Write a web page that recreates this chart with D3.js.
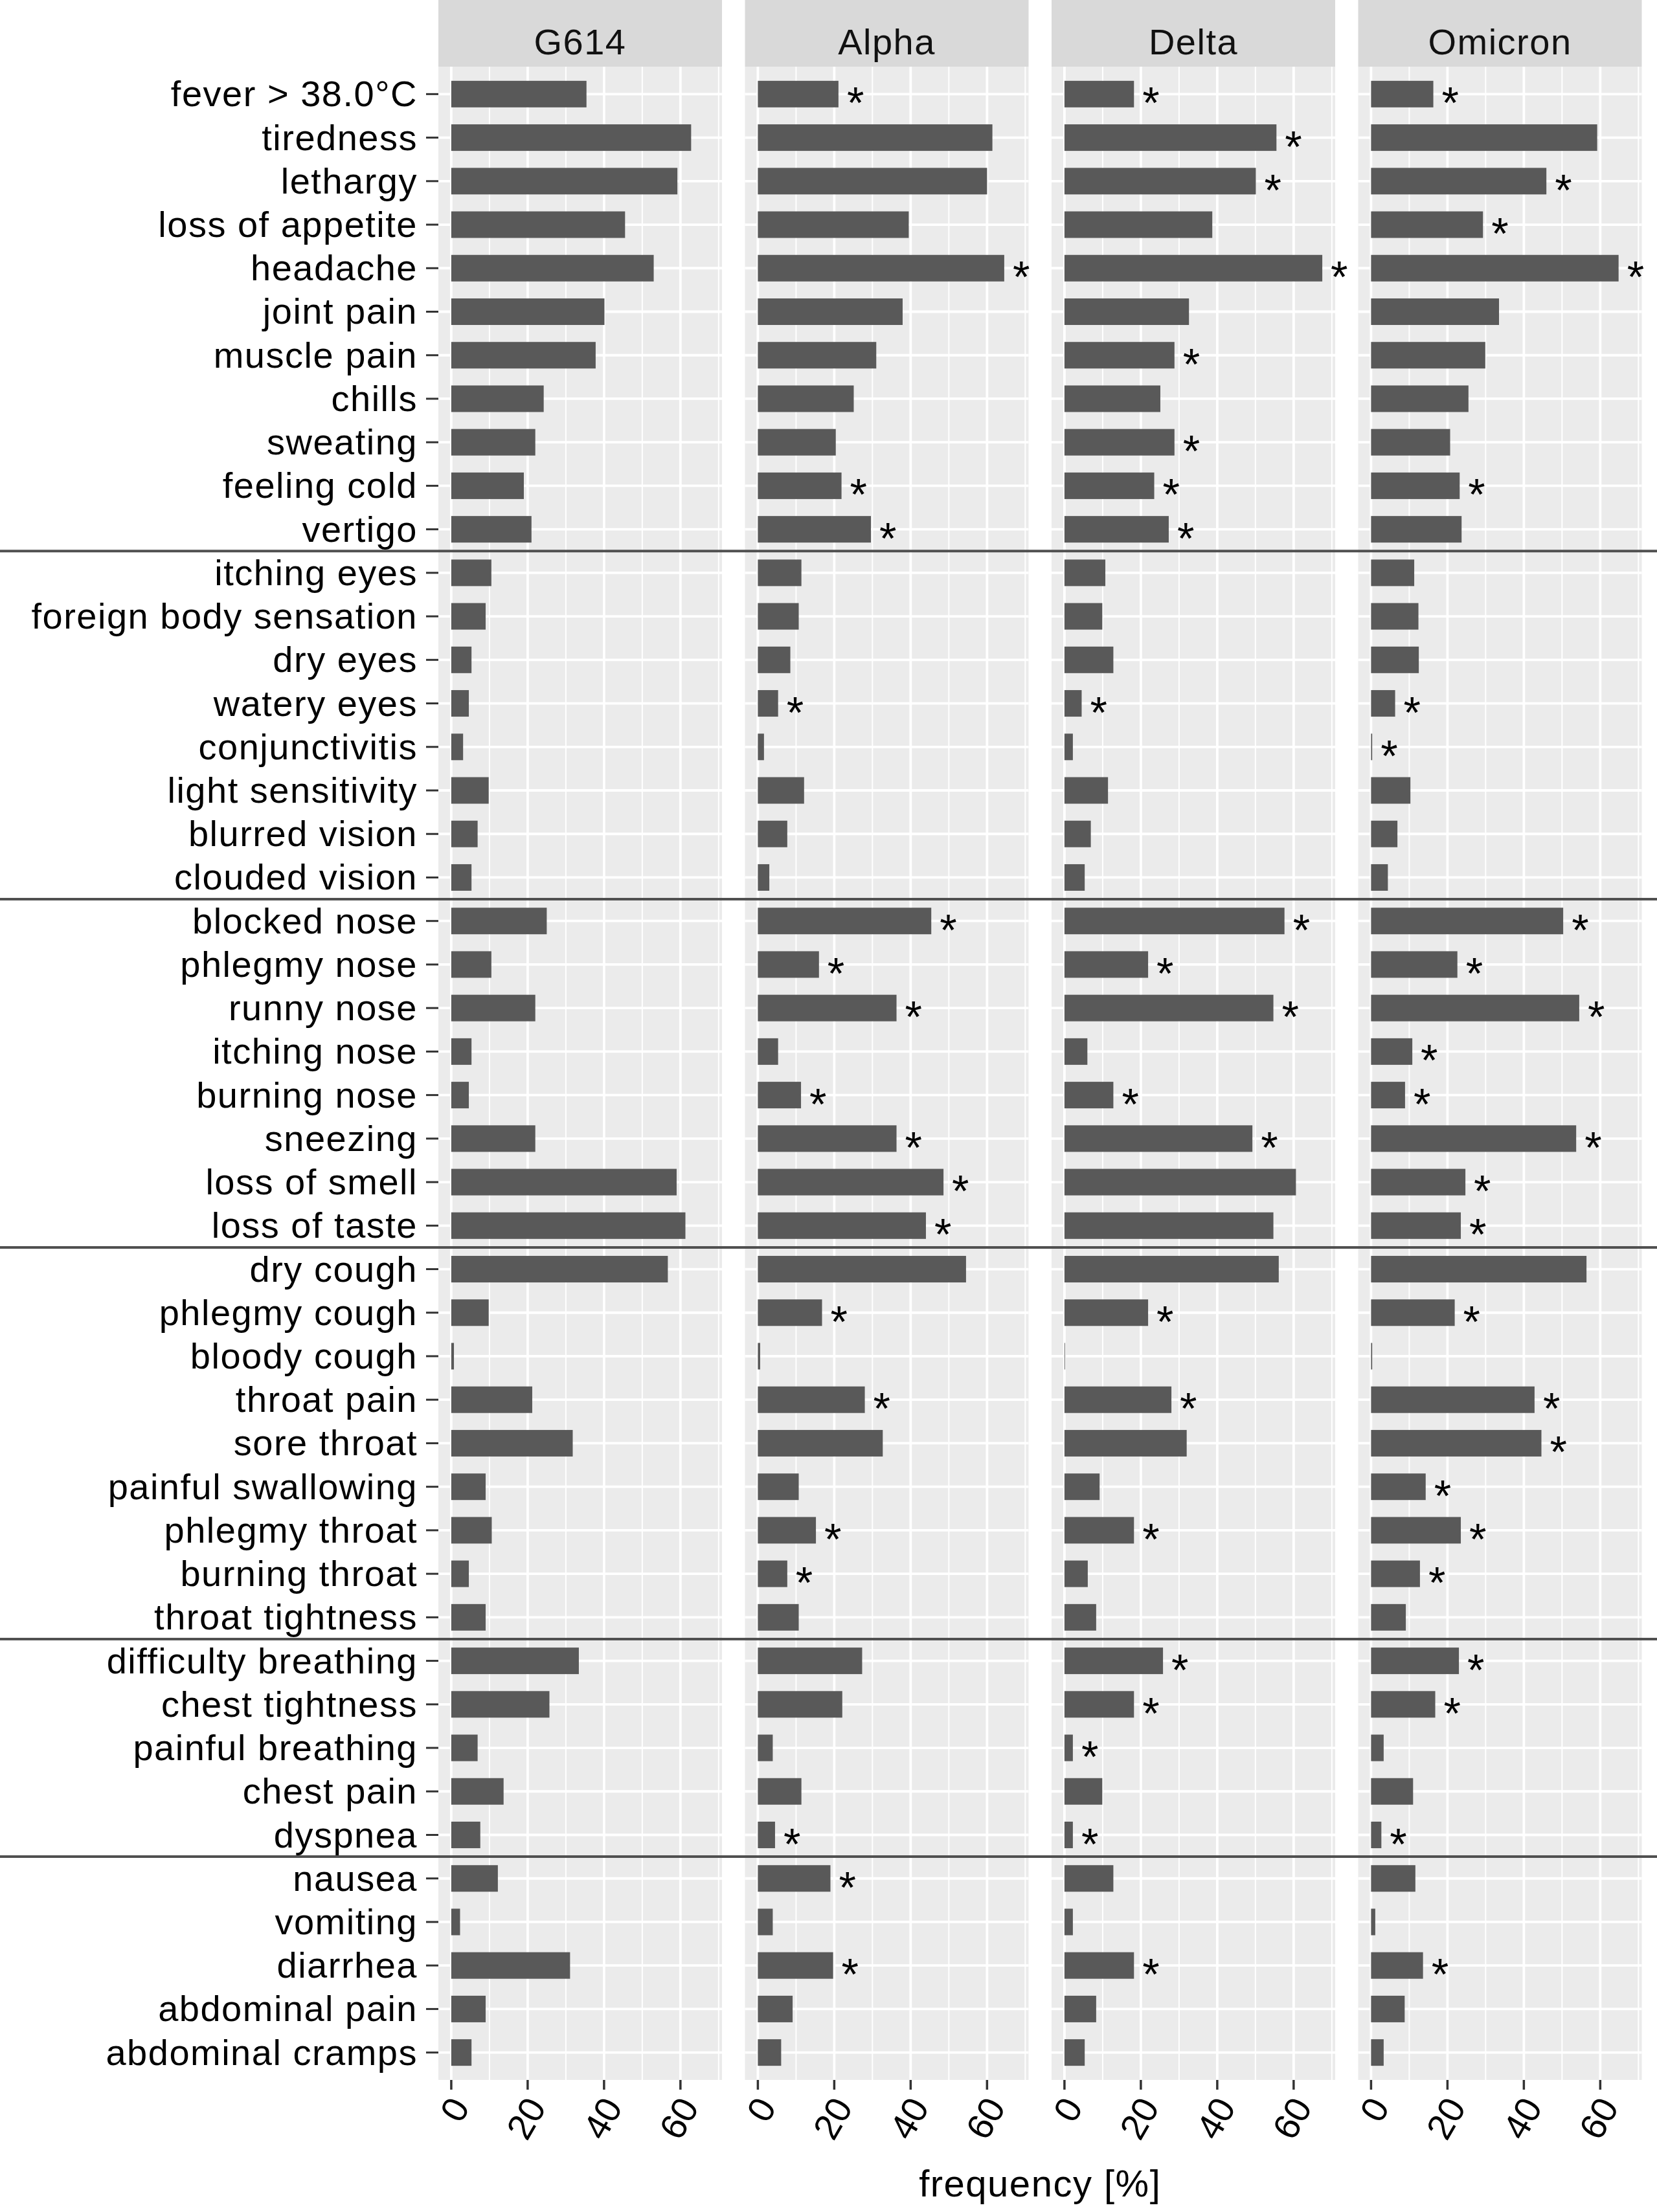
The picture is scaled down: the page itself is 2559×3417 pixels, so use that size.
<!DOCTYPE html>
<html>
<head>
<meta charset="utf-8">
<script src="https://cdn.jsdelivr.net/npm/d3@7"></script>
<style>
  body { margin: 0; background: #fff; }
  svg { display: block; }
  text { font-family: "Liberation Sans", Arial, sans-serif; }
</style>
</head>
<body>
<div id="chart"></div>
<script>
// symptoms, top to bottom
const symptoms = [
  "fever > 38.0°C", "tiredness", "lethargy", "loss of appetite", "headache",
  "joint pain", "muscle pain", "chills", "sweating", "feeling cold", "vertigo",
  "itching eyes", "foreign body sensation", "dry eyes", "watery eyes",
  "conjunctivitis", "light sensitivity", "blurred vision", "clouded vision",
  "blocked nose", "phlegmy nose", "runny nose", "itching nose", "burning nose",
  "sneezing", "loss of smell", "loss of taste",
  "dry cough", "phlegmy cough", "bloody cough", "throat pain", "sore throat",
  "painful swallowing", "phlegmy throat", "burning throat", "throat tightness",
  "difficulty breathing", "chest tightness", "painful breathing", "chest pain", "dyspnea",
  "nausea", "vomiting", "diarrhea", "abdominal pain", "abdominal cramps"
];
// rows per symptom group (separator lines between groups)
const groupSizes = [11, 8, 8, 9, 5, 5];

const variants = ["G614", "Alpha", "Delta", "Omicron"];

// frequency [%]
const g614 = [35.4, 62.8, 59.2, 45.5, 53.0, 40.1, 37.8, 24.2, 22.0, 19.0, 21.0,
  10.5, 9.0, 5.3, 4.6, 3.1, 9.8, 6.9, 5.3,
  25.0, 10.5, 22.0, 5.3, 4.6, 22.0, 59.0, 61.3,
  56.7, 9.8, 0.7, 21.2, 31.8, 9.0, 10.6, 4.6, 9.0,
  33.4, 25.7, 6.9, 13.7, 7.6,
  12.2, 2.3, 31.1, 9.0, 5.3];
const alpha = [21.1, 61.4, 60.0, 39.5, 64.5, 37.9, 31.0, 25.1, 20.4, 21.9, 29.6,
  11.4, 10.7, 8.5, 5.3, 1.6, 12.1, 7.7, 3.0,
  45.4, 16.0, 36.3, 5.3, 11.3, 36.3, 48.6, 44.0,
  54.5, 16.8, 0.6, 28.0, 32.7, 10.7, 15.2, 7.7, 10.7,
  27.3, 22.1, 3.9, 11.4, 4.5,
  19.0, 3.9, 19.7, 9.1, 6.1];
const delta = [18.2, 55.5, 50.1, 38.7, 67.5, 32.6, 28.8, 25.1, 28.8, 23.5, 27.3,
  10.7, 9.9, 12.8, 4.5, 2.2, 11.4, 6.9, 5.3,
  57.6, 21.9, 54.7, 6.0, 12.8, 49.2, 60.6, 54.7,
  56.1, 21.9, 0.15, 28.0, 32.0, 9.2, 18.2, 6.1, 8.3,
  25.8, 18.2, 2.2, 9.9, 2.2,
  12.8, 2.2, 18.2, 8.3, 5.3];
const omicron = [16.3, 59.2, 45.9, 29.3, 64.8, 33.5, 29.9, 25.5, 20.7, 23.2, 23.7,
  11.3, 12.4, 12.5, 6.3, 0.3, 10.3, 6.9, 4.4,
  50.3, 22.6, 54.5, 10.8, 8.9, 53.7, 24.7, 23.5,
  56.4, 21.9, 0.3, 42.8, 44.6, 14.3, 23.5, 12.8, 9.1,
  23.0, 16.8, 3.3, 11.0, 2.7,
  11.6, 1.1, 13.6, 8.8, 3.3];

// significance marks (1 = "*")
const starsG614 = new Array(46).fill(0);
const starsAlpha = [1,0,0,0,1,0,0,0,0,1,1, 0,0,0,1,0,0,0,0, 1,1,1,0,1,1,1,1,
  0,1,0,1,0,0,1,1,0, 0,0,0,0,1, 1,0,1,0,0];
const starsDelta = [1,1,1,0,1,0,1,0,1,1,1, 0,0,0,1,0,0,0,0, 1,1,1,0,1,1,0,0,
  0,1,0,1,0,0,1,0,0, 1,1,1,0,1, 0,0,1,0,0];
const starsOmicron = [1,0,1,1,1,0,0,0,0,1,0, 0,0,0,1,1,0,0,0, 1,1,1,1,1,1,1,1,
  0,1,0,1,1,1,1,1,0, 1,1,0,0,1, 0,0,1,0,0];

const xTicks = [0, 20, 40, 60];
const xMinor = [10, 30, 50, 70];

const series = [g614, alpha, delta, omicron];
const stars = [starsG614, starsAlpha, starsDelta, starsOmicron];

const W = 2559, H = 3417;
const panelLeft = 677, panelW = 438, panelGap = 35.5;
const stripH = 103, panelBottom = 3213;

const svg = d3.select("#chart").append("svg")
  .attr("width", W).attr("height", H);

const maxVal = d3.max(series.flat());
const x = d3.scaleLinear()
  .domain([-0.05 * maxVal, 1.05 * maxVal])
  .range([0, panelW]);

const y = d3.scalePoint()
  .domain(symptoms)
  .range([stripH, panelBottom])
  .padding(0.63);
const barH = y.step() * 0.61;

variants.forEach(function (v, i) {
  const g = svg.append("g")
    .attr("transform", "translate(" + (panelLeft + i * (panelW + panelGap)) + ",0)");

  // strip
  g.append("rect").attr("x", 0).attr("y", 0)
    .attr("width", panelW).attr("height", stripH).attr("fill", "#d9d9d9");
  g.append("text").attr("x", panelW / 2).attr("y", 84)
    .attr("text-anchor", "middle").attr("font-size", 56)
    .style("letter-spacing", "1.5px").attr("fill", "#111").text(v);

  // panel background and grid
  g.append("rect").attr("x", 0).attr("y", stripH)
    .attr("width", panelW).attr("height", panelBottom - stripH).attr("fill", "#ebebeb");
  g.selectAll(".minor").data(xMinor).enter().append("line")
    .attr("x1", d => x(d)).attr("x2", d => x(d))
    .attr("y1", stripH).attr("y2", panelBottom)
    .attr("stroke", "#fff").attr("stroke-width", 2);
  g.selectAll(".major").data(xTicks).enter().append("line")
    .attr("x1", d => x(d)).attr("x2", d => x(d))
    .attr("y1", stripH).attr("y2", panelBottom)
    .attr("stroke", "#fff").attr("stroke-width", 3.8);
  g.selectAll(".hgrid").data(symptoms).enter().append("line")
    .attr("x1", 0).attr("x2", panelW)
    .attr("y1", d => y(d)).attr("y2", d => y(d))
    .attr("stroke", "#fff").attr("stroke-width", 3.8);

  // bars
  const vals = series[i];
  g.selectAll(".bar").data(symptoms).enter().append("rect")
    .attr("x", x(0))
    .attr("y", d => y(d) - barH / 2)
    .attr("width", (d, k) => x(vals[k]) - x(0))
    .attr("height", barH)
    .attr("fill", "#595959");

  // stars
  const st = stars[i];
  g.selectAll(".star").data(symptoms.filter((d, k) => st[k])).enter().append("text")
    .attr("x", d => x(vals[symptoms.indexOf(d)]) + 13)
    .attr("y", d => y(d) + 37)
    .attr("font-size", 68).attr("fill", "#000").text("*");

  // x axis ticks and labels
  g.selectAll(".xt").data(xTicks).enter().append("line")
    .attr("x1", d => x(d)).attr("x2", d => x(d))
    .attr("y1", panelBottom).attr("y2", panelBottom + 15)
    .attr("stroke", "#333").attr("stroke-width", 3.5);
  g.selectAll(".xl").data(xTicks).enter().append("text")
    .attr("transform", d => "translate(" + (x(d) + 30) + "," + (panelBottom + 42) + ") rotate(-60)")
    .attr("text-anchor", "end").attr("font-size", 56).attr("fill", "#000")
    .text(d => d);
});

// y axis labels and ticks
const ya = svg.append("g");
ya.selectAll(".yt").data(symptoms).enter().append("line")
  .attr("x1", panelLeft - 19).attr("x2", panelLeft)
  .attr("y1", d => y(d)).attr("y2", d => y(d))
  .attr("stroke", "#333").attr("stroke-width", 3);
ya.selectAll(".yl").data(symptoms).enter().append("text")
  .attr("x", panelLeft - 32)
  .attr("y", d => y(d) + 19)
  .attr("text-anchor", "end").attr("font-size", 56)
  .style("letter-spacing", "1.5px").attr("fill", "#000")
  .text(d => d);

// separators between symptom groups
const bounds = d3.cumsum(groupSizes).slice(0, -1);
svg.selectAll(".sep").data(bounds).enter().append("line")
  .attr("x1", 0).attr("x2", W)
  .attr("y1", d => (y(symptoms[d - 1]) + y(symptoms[d])) / 2)
  .attr("y2", d => (y(symptoms[d - 1]) + y(symptoms[d])) / 2)
  .attr("stroke", "#505050").attr("stroke-width", 4);

// x axis title
svg.append("text")
  .attr("x", panelLeft + (4 * panelW + 3 * panelGap) / 2)
  .attr("y", 3393)
  .attr("text-anchor", "middle").attr("font-size", 58)
  .style("letter-spacing", "1.5px").attr("fill", "#000")
  .text("frequency [%]");
</script>
</body>
</html>
